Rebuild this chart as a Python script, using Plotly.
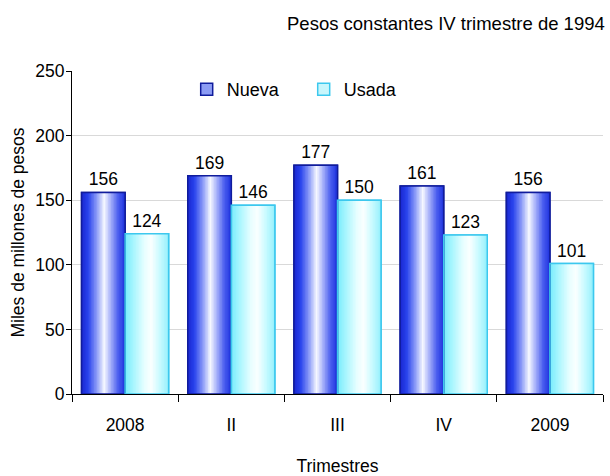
import plotly.graph_objects as go

# Quarterly values, billions of constant pesos
trimestres = ["2008", "II", "III", "IV", "2009"]
nueva = [156, 169, 177, 161, 156]
usada = [124, 146, 150, 123, 101]

FONT = "Liberation Sans, Arial, Helvetica, sans-serif"
FS = 17.5
BAR_W = 0.41
N_STRIPS = 28

# Horizontal colour ramps that give the bars their cylinder look
NUEVA_RAMP = [(0.0, (26, 40, 210)), (0.15, (40, 66, 236)), (0.35, (140, 156, 248)),
              (0.52, (246, 248, 255)), (0.66, (170, 180, 250)), (0.85, (70, 90, 238)),
              (1.0, (32, 52, 222))]
USADA_RAMP = [(0.0, (120, 236, 252)), (0.2, (170, 246, 254)), (0.45, (232, 254, 255)),
              (0.6, (250, 255, 255)), (0.8, (200, 250, 255)), (1.0, (150, 240, 252))]


def ramp_color(ramp, t):
    for (t0, c0), (t1, c1) in zip(ramp, ramp[1:]):
        if t0 <= t <= t1:
            f = (t - t0) / (t1 - t0) if t1 > t0 else 0
            r, g, b = (round(a + (bb - a) * f) for a, bb in zip(c0, c1))
            return f"rgb({r},{g},{b})"
    r, g, b = ramp[-1][1]
    return f"rgb({r},{g},{b})"


fig = go.Figure()

series = [
    ("Nueva", nueva, -BAR_W, NUEVA_RAMP, "#8c9cf4", "#101c9c"),
    ("Usada", usada, 0.0, USADA_RAMP, "#c8f6fc", "#3cc8ee"),
]

# Base bars (carry the legend entries)
for name, vals, off, ramp, base, edge in series:
    fig.add_trace(go.Bar(
        x=trimestres, y=vals, name=name, offset=off, width=BAR_W,
        marker=dict(color=base, line=dict(color=edge, width=1.5)),
        hoverinfo="skip",
    ))

# Gradient fill, built from thin vertical strips of each bar
for name, vals, off, ramp, base, edge in series:
    sw = BAR_W / N_STRIPS
    for i in range(N_STRIPS):
        t = (i + 0.5) / N_STRIPS
        fig.add_trace(go.Bar(
            x=trimestres, y=vals, showlegend=False,
            offset=off + i * sw, width=sw * (1.6 if i < N_STRIPS - 1 else 1.0),
            marker=dict(color=ramp_color(ramp, t), line=dict(width=0)),
            hoverinfo="skip",
        ))

# Outlines and value labels on top
for name, vals, off, ramp, base, edge in series:
    fig.add_trace(go.Bar(
        x=trimestres, y=vals, showlegend=False, offset=off, width=BAR_W,
        marker=dict(color="rgba(0,0,0,0)", line=dict(color=edge, width=1.5)),
        text=[str(v) for v in vals], textposition="outside",
        textfont=dict(family=FONT, size=FS, color="black"),
        cliponaxis=False, name=name,
    ))

fig.update_layout(
    width=610, height=476,
    margin=dict(l=72, r=7, t=71, b=82),
    barmode="overlay",
    paper_bgcolor="white", plot_bgcolor="white",
    font=dict(family=FONT, size=FS, color="black"),
    showlegend=True,
    legend=dict(orientation="h", x=0.216, y=1.0, xanchor="left", yanchor="top",
                entrywidth=72, bgcolor="rgba(0,0,0,0)", font=dict(size=18),
                traceorder="normal"),
    xaxis=dict(
        type="category", showline=True, linecolor="black", linewidth=1,
        ticks="outside", tickson="boundaries", ticklen=7, tickcolor="black",
        ticklabelstandoff=15, automargin=False,
        showgrid=False, tickfont=dict(size=FS),
        title=dict(text="Trimestres", font=dict(size=FS), standoff=33),
    ),
    yaxis=dict(
        range=[0, 250], dtick=50, showline=True, linecolor="black", linewidth=1,
        ticks="outside", ticklen=5, tickcolor="black", zeroline=False,
        ticklabelstandoff=-2, automargin=False,
        showgrid=True, gridcolor="#d9d9d9", gridwidth=1, tickfont=dict(size=FS),
        title=dict(text="Miles de millones de pesos", font=dict(size=FS), standoff=6),
    ),
    annotations=[dict(
        text="Pesos constantes IV trimestre de 1994", xref="paper", yref="paper",
        x=1.0, y=1.0, xanchor="right", yanchor="middle", yshift=48, xshift=4,
        showarrow=False, font=dict(size=18.5),
    )],
)

fig.write_html("out.html")
